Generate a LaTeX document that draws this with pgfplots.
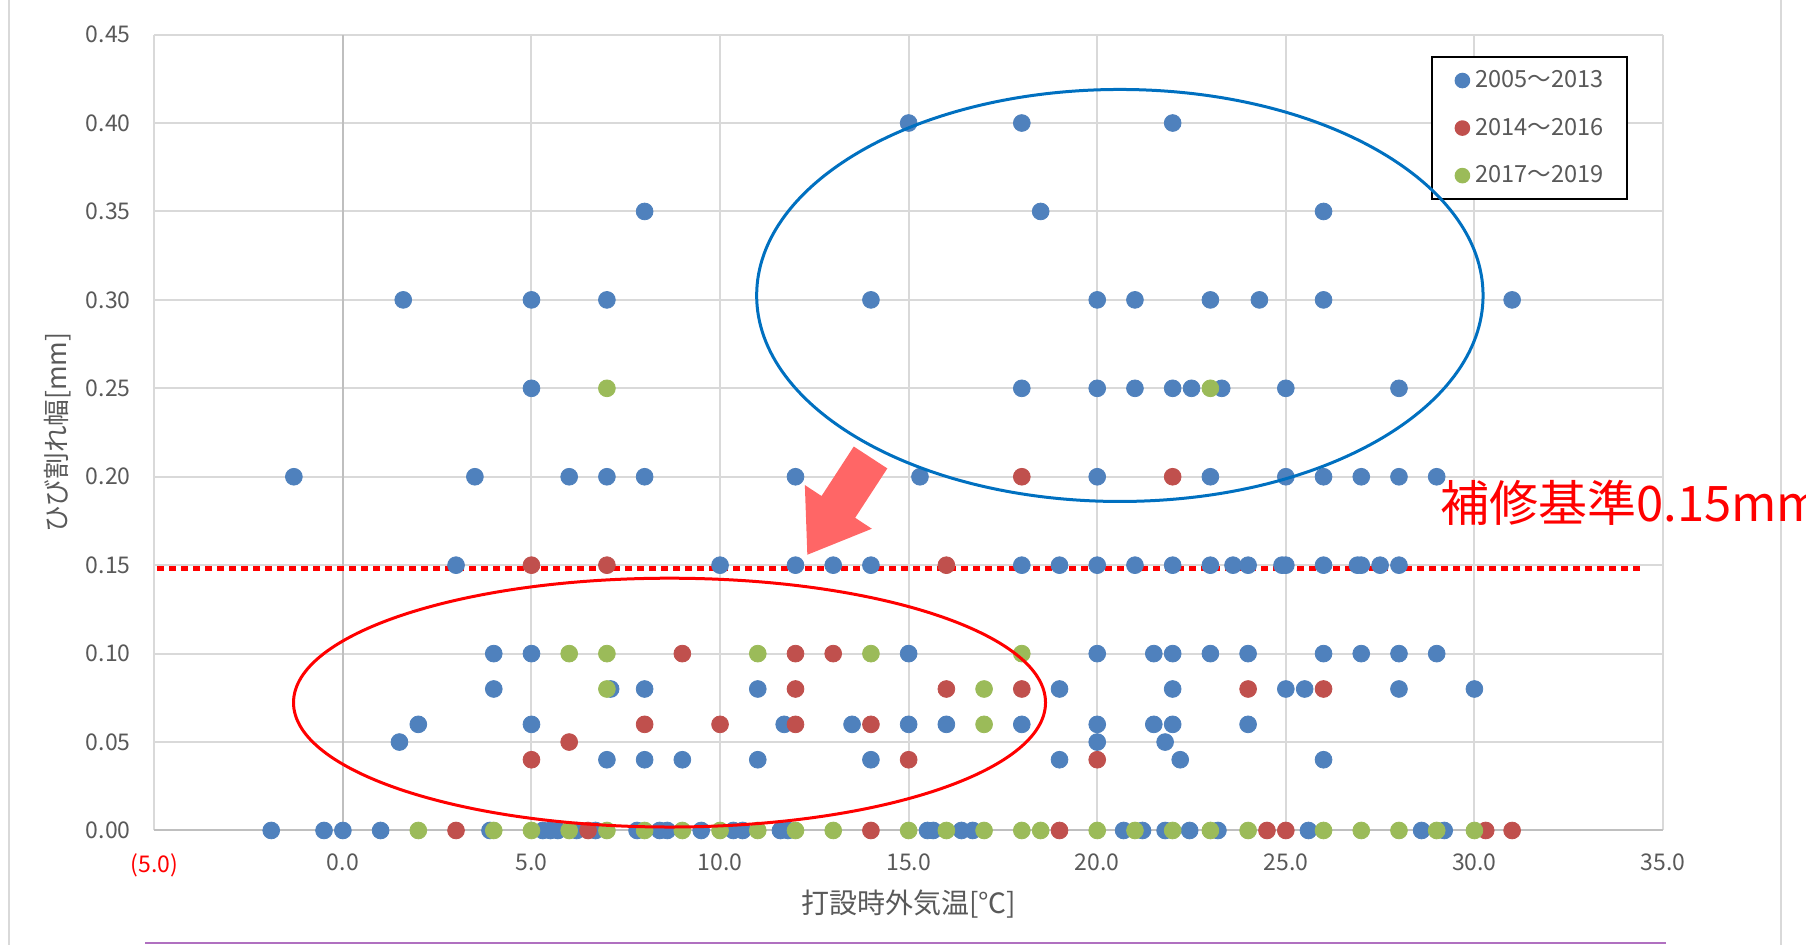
\documentclass[border=0pt]{standalone}
\usepackage{fontspec}
\setmainfont{Noto Sans CJK JP}
\usepackage{pgfplots}
\pgfplotsset{compat=1.18}
\definecolor{sblue}{HTML}{4F81BD}
\definecolor{sred}{HTML}{C0504D}
\definecolor{sgreen}{HTML}{9BBB59}
\definecolor{txt}{HTML}{595959}
\definecolor{gridc}{HTML}{D9D9D9}
\definecolor{axc}{HTML}{BFBFBF}
\definecolor{ellblue}{HTML}{0070C0}
\definecolor{arrowc}{HTML}{FF6666}
\definecolor{frameP}{HTML}{B070C0}
\begin{document}
\begin{tikzpicture}
\useasboundingbox (0,0) rectangle (903pt,472.5pt);
\draw[gridc, line width=1pt] (4.5pt,0) -- (4.5pt,472.5pt);
\draw[gridc, line width=1pt] (890.5pt,0) -- (890.5pt,472.5pt);
\draw[frameP, line width=1pt] (72.5pt,1.2pt) -- (833pt,1.2pt);
\begin{axis}[
  at={(77.15pt,57.25pt)}, anchor=south west,
  scale only axis, width=754.35pt, height=397.95pt,
  xmin=-5, xmax=35, ymin=0, ymax=0.45,
  xtick={-5,0,5,10,15,20,25,30,35},
  ytick={0,0.05,0.1,0.15,0.2,0.25,0.3,0.35,0.4,0.45},
  xticklabels={{\color{red}(5.0)},0.0,5.0,10.0,15.0,20.0,25.0,30.0,35.0},
  yticklabels={0.00,0.05,0.10,0.15,0.20,0.25,0.30,0.35,0.40,0.45},
  grid=major, grid style={gridc, line width=1pt},
  axis line style={draw=none}, major tick length=0pt,
  tick label style={font=\fontsize{11.5}{13}\selectfont, text=txt},
  xticklabel style={yshift=-8.3pt},
  yticklabel style={xshift=-8.3pt},
  xlabel={打設時外気温[℃]}, ylabel={ひび割れ幅[mm]},
  xlabel style={font=\fontsize{14}{16}\selectfont, text=txt, at={(axis description cs:0.5,-0.0924)}, anchor=center},
  ylabel style={font=\fontsize{13.3}{15}\selectfont, text=txt, at={(axis description cs:-0.0641,0.5)}, anchor=center},
  legend style={at={(axis description cs:0.8465,0.9725)}, anchor=north west,
    draw=black, line width=1pt, fill=white, font=\fontsize{11.8}{13}\selectfont,
    text=txt, inner xsep=9.9pt, inner ysep=4.5pt, row sep=9.7pt},
  legend cell align=left,
  legend image code/.code={\path[draw=none,fill=none] (-5.1pt,0pt) rectangle (4.4pt,0.1pt);
    \draw[#1,mark size=3.4pt] plot coordinates {(0pt,0pt)};},
  clip=false,
]
\addplot[axc, line width=1pt, forget plot] coordinates {(0,0) (0,0.45)};
\addplot[axc, line width=1pt, forget plot] coordinates {(-5,0) (35,0)};
\addplot[only marks, mark=*, mark size=4.2pt, color=sblue, mark options={draw=sblue, fill=sblue}] coordinates {
(15,0.40) (18,0.40) (22,0.40)
(8,0.35) (18.5,0.35) (26,0.35)
(1.6,0.30) (5,0.30) (7,0.30) (14,0.30) (20,0.30) (21,0.30) (23,0.30) (24.3,0.30) (26,0.30) (31,0.30)
(5,0.25) (18,0.25) (20,0.25) (21,0.25) (22,0.25) (22.5,0.25) (23.3,0.25) (25,0.25) (28,0.25)
(-1.3,0.20) (3.5,0.20) (6,0.20) (7,0.20) (8,0.20) (12,0.20) (15.3,0.20) (20,0.20) (23,0.20) (25,0.20) (26,0.20) (27,0.20) (28,0.20) (29,0.20)
(3,0.15) (10,0.15) (12,0.15) (13,0.15) (14,0.15) (18,0.15) (19,0.15) (20,0.15) (21,0.15) (22,0.15) (23,0.15) (23.6,0.15) (24,0.15) (24.9,0.15) (25,0.15) (26,0.15) (26.9,0.15) (27,0.15) (27.5,0.15) (28,0.15)
(4,0.10) (5,0.10) (15,0.10) (20,0.10) (21.5,0.10) (22,0.10) (23,0.10) (24,0.10) (26,0.10) (27,0.10) (28,0.10) (29,0.10)
(4,0.08) (7.1,0.08) (8,0.08) (11,0.08) (19,0.08) (22,0.08) (25,0.08) (25.5,0.08) (28,0.08) (30,0.08)
(2,0.06) (5,0.06) (11.7,0.06) (13.5,0.06) (15,0.06) (16,0.06) (18,0.06) (20,0.06) (21.5,0.06) (22,0.06) (24,0.06)
(1.5,0.05) (20,0.05) (21.8,0.05)
(7,0.04) (8,0.04) (9,0.04) (11,0.04) (14,0.04) (19,0.04) (22.2,0.04) (26,0.04)
(-1.9,0) (-0.5,0) (0,0) (1,0) (3.9,0) (5.3,0) (5.5,0) (5.7,0) (6.2,0) (6.7,0) (7.8,0) (8.4,0) (8.6,0) (9.5,0)
(10.35,0) (10.6,0) (11.6,0) (11.8,0) (15.5,0) (15.65,0) (16.4,0) (16.7,0) (20.7,0) (21.2,0) (21.8,0) (22.45,0)
(23.2,0) (25.6,0) (28.6,0) (29.2,0)
};
\addlegendentry{2005～2013}
\addplot[only marks, mark=*, mark size=4.2pt, color=sred, mark options={draw=sred, fill=sred}] coordinates {
(18,0.20) (22,0.20)
(5,0.15) (7,0.15) (16,0.15)
(9,0.10) (12,0.10) (13,0.10)
(12,0.08) (16,0.08) (18,0.08) (24,0.08) (26,0.08)
(8,0.06) (10,0.06) (12,0.06) (14,0.06)
(6,0.05)
(5,0.04) (15,0.04) (20,0.04)
(3,0) (6.5,0) (14,0) (19,0) (24.5,0) (25,0) (30.3,0) (31,0)
};
\addlegendentry{2014～2016}
\addplot[only marks, mark=*, mark size=4.2pt, color=sgreen, mark options={draw=sgreen, fill=sgreen}] coordinates {
(7,0.25) (23,0.25)
(6,0.10) (7,0.10) (11,0.10) (14,0.10) (18,0.10)
(7,0.08) (17,0.08)
(17,0.06)
(2,0) (4,0) (5,0) (6,0) (7,0) (8,0) (9,0) (10,0) (11,0) (12,0) (13,0) (15,0) (16,0) (17,0) (18,0) (18.5,0)
(20,0) (21,0) (22,0) (23,0) (24,0) (26,0) (27,0) (28,0) (29,0) (30,0)
};
\addlegendentry{2017～2019}
\addplot[red, line width=2.5pt, dash pattern=on 3.5pt off 2.5pt, forget plot] coordinates {(-4.92,0.148) (34.47,0.148)};
\fill[arrowc] (axis cs:13.545,0.2171) -- (axis cs:12.691,0.1891) -- (axis cs:12.248,0.1953)
  -- (axis cs:12.314,0.1559) -- (axis cs:14.024,0.1706) -- (axis cs:13.582,0.1768)
  -- (axis cs:14.435,0.2047) -- cycle;
\coordinate (bc) at (axis cs:20.6,0.3025);
\coordinate (rc) at (axis cs:8.66,0.0723);
\end{axis}
\draw[ellblue, line width=1.5pt] (bc) ellipse [x radius=181.6pt, y radius=103pt];
\draw[red, line width=1.5pt] (rc) ellipse [x radius=188pt, y radius=62.2pt];
\node[anchor=west, inner sep=0pt, text=red, font=\fontsize{24.5}{28}\selectfont] at (720pt,221.25pt) {補修基準0.15mm};
\end{tikzpicture}
\end{document}
